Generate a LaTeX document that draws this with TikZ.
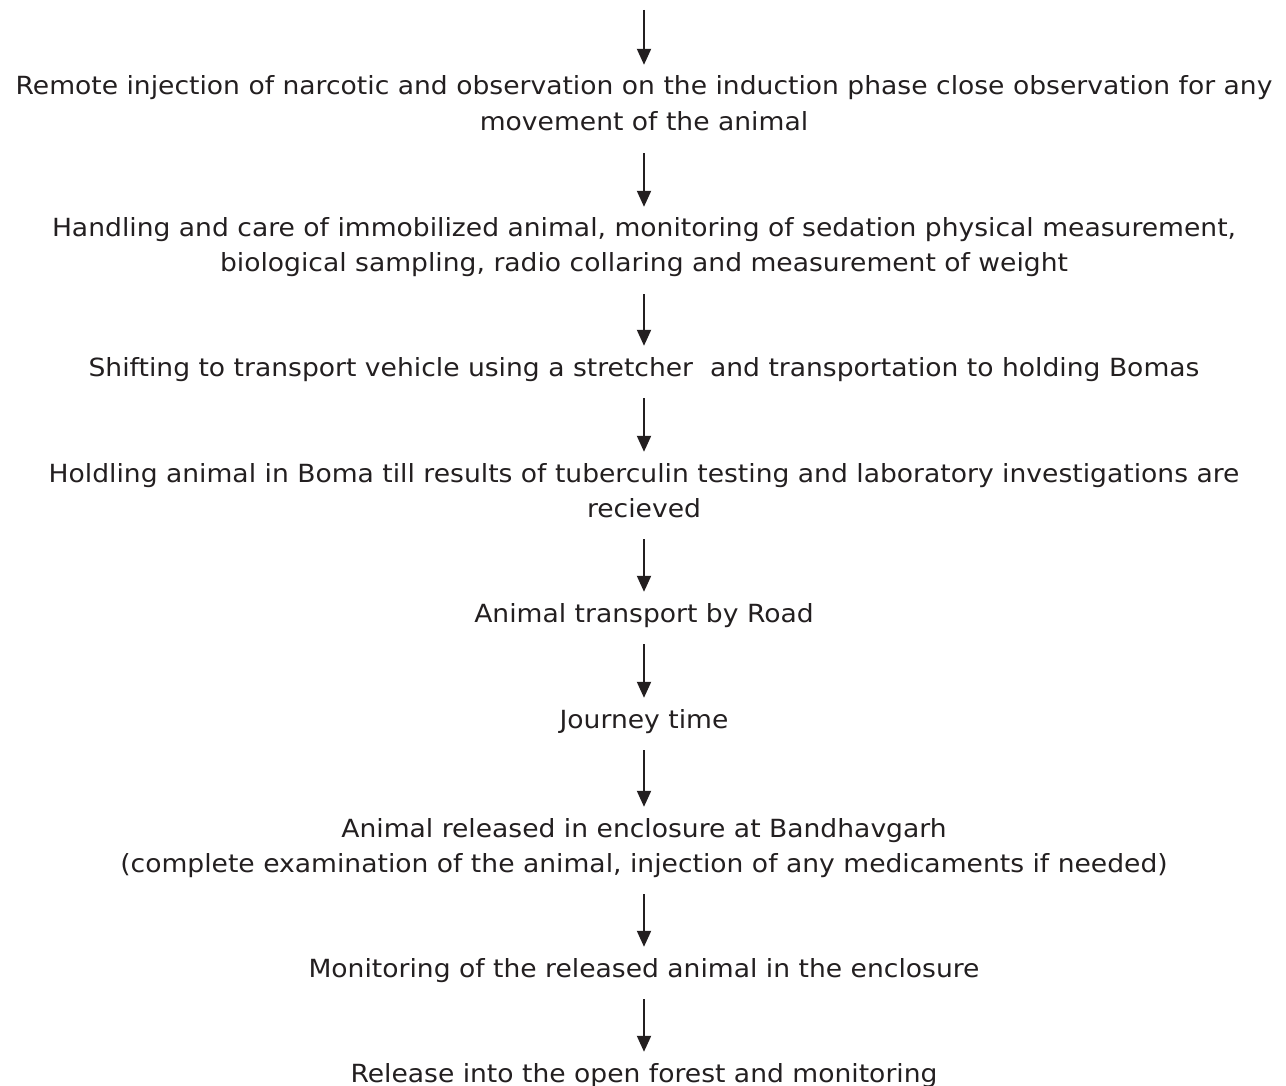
\documentclass[tikz,border=0pt]{standalone}
\usepackage{fontspec}
\setmainfont[FakeStretch=1.063]{DejaVu Sans}
\usetikzlibrary{arrows.meta}
\definecolor{ink}{HTML}{231F20}
\tikzset{
  txt/.style={inner sep=0pt, text height=18pt, text depth=5pt, text=ink,
    font=\fontsize{25}{30}\selectfont, anchor=base},
  arr/.style={draw=ink, line width=2pt, -{Triangle[width=14pt,length=16pt]},
    shorten <=17pt, shorten >=12pt}
}
\begin{document}
\begin{tikzpicture}[x=1pt,y=-1pt]
\useasboundingbox (0,0) rectangle (1286,1086);
\def\cx{644}
\coordinate (top) at (\cx,-7);
\node[txt] (b1) at (\cx,95) {Remote injection of narcotic and observation on the induction phase close observation for any};
\node[txt] (b1x) at (\cx,131) {movement of the animal};
\node[txt] (b2) at (\cx,237) {Handling and care of immobilized animal, monitoring of sedation physical measurement,};
\node[txt] (b2x) at (\cx,272) {biological sampling, radio collaring and measurement of weight};
\node[txt] (b3) at (\cx,376) {Shifting to transport vehicle using a stretcher\ \ and transportation to holding Bomas};
\node[txt] (b4) at (\cx,482) {Holdling animal in Boma till results of tuberculin testing and laboratory investigations are};
\node[txt] (b4x) at (\cx,517) {recieved};
\node[txt] (b5) at (\cx,622) {Animal transport by Road};
\node[txt] (b6) at (\cx,728) {Journey time};
\node[txt] (b7) at (\cx,837) {Animal released in enclosure at Bandhavgarh};
\node[txt] (b7x) at (\cx,872) {(complete examination of the animal, injection of any medicaments if needed)};
\node[txt] (b8) at (\cx,977) {Monitoring of the released animal in the enclosure};
\node[txt] (b9) at (\cx,1082) {Release into the open forest and monitoring};
\draw[arr] (top) -- (b1.north);
\draw[arr] (b1x.south) -- (b2.north);
\draw[arr] (b2x.south) -- (b3.north);
\draw[arr] (b3.south) -- (b4.north);
\draw[arr] (b4x.south) -- (b5.north);
\draw[arr] (b5.south) -- (b6.north);
\draw[arr] (b6.south) -- (b7.north);
\draw[arr] (b7x.south) -- (b8.north);
\draw[arr] (b8.south) -- (b9.north);
\end{tikzpicture}
\end{document}
